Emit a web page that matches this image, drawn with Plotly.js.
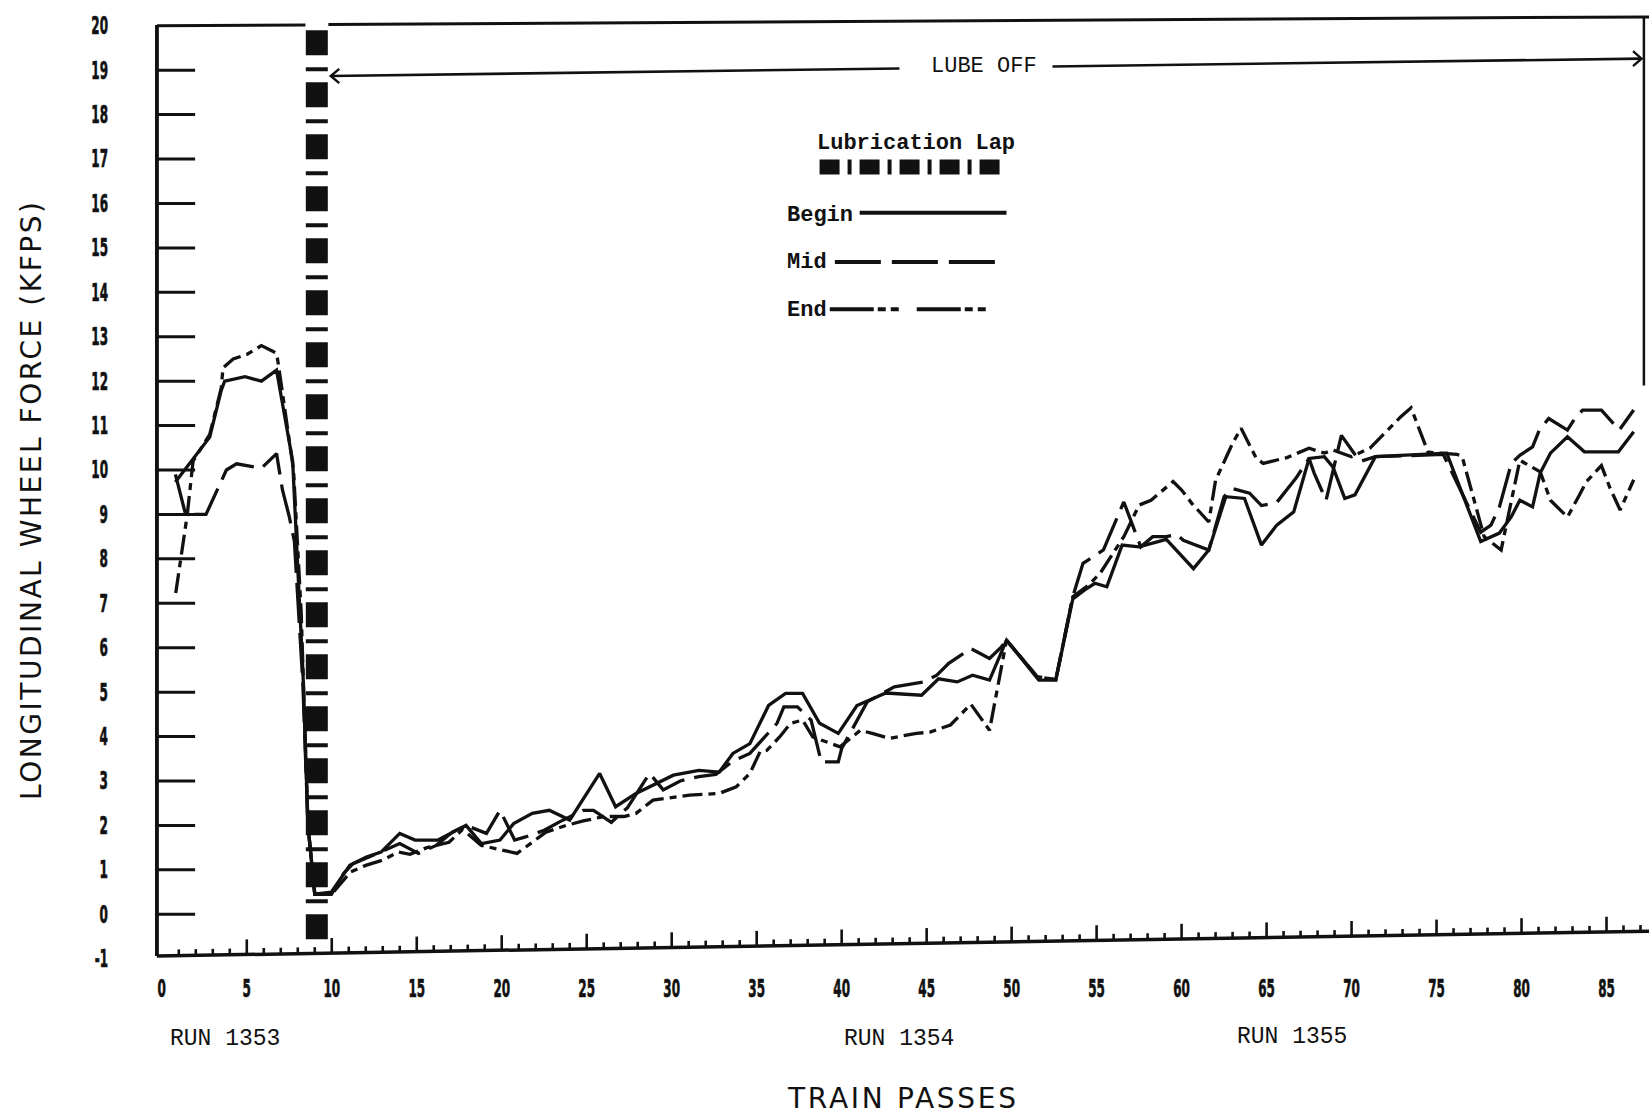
<!DOCTYPE html>
<html>
<head>
<meta charset="utf-8">
<script src="https://cdn.plot.ly/plotly-3.0.1.min.js"></script>
<style>
  html, body { margin: 0; padding: 0; background: #ffffff; }
  #chart { width: 1650px; height: 1115px; }
  #chart .xtick text, #chart .ytick text { stroke: #111111; stroke-width: 0.7px; }
</style>
</head>
<body>
<div id="chart"></div>
<script>
// Longitudinal wheel force (kips) against train passes, measured at the
// beginning, middle and end of the lubrication lap.
const passBegin = [0.8,1.84,2.82,3.5,3.7,4.9,5.86,6.75,7.7,8.1,8.3,8.6,9.0,9.98,11.06,12.04,12.9,14.0,14.9,16.25,17.9,18.8,19.9,20.7,21.8,22.8,24.0,25.76,26.7,27.9,28.9,30.1,31.6,32.8,33.6,34.6,35.7,36.7,37.7,38.7,39.8,40.9,42.6,44.7,45.7,46.8,47.7,48.7,49.7,51.6,52.6,53.6,54.3,54.9,55.6,56.5,57.5,59.1,60.7,61.6,62.6,63.7,64.7,65.6,66.6,67.5,68.4,68.9,69.6,70.2,71.4,75.6,77.6,78.7,79.4,79.9,80.65,81.1,81.7,82.7,83.7,85.7,86.6];
const forceBegin = [9.73,10.25,10.74,11.8,12.0,12.1,12.0,12.25,10.2,7.0,5.5,2.0,0.45,0.5,1.1,1.29,1.4,1.82,1.67,1.67,2.0,1.59,1.67,2.04,2.27,2.34,2.12,3.17,2.42,2.72,2.9,3.13,3.24,3.2,3.62,3.84,4.7,4.97,4.97,4.3,4.07,4.7,4.98,4.93,5.3,5.23,5.38,5.27,6.17,5.27,5.27,7.1,7.3,7.45,7.37,8.31,8.27,8.44,7.78,8.2,9.4,9.36,8.31,8.76,9.06,10.26,10.3,10.07,9.36,9.44,10.3,10.38,8.39,8.58,8.95,9.32,9.17,9.93,10.38,10.75,10.41,10.41,10.86];

const passMid = [0.8,1.4,2.6,3.8,4.4,5.86,6.75,7.1,7.5,7.8,8.3,8.6,9.0,9.98,10.7,11.25,12.7,14.0,15.1,16.15,17.1,17.9,19.1,19.9,20.76,21.4,22.5,23.4,24.8,25.4,26.45,27.4,28.7,29.5,30.5,31.6,32.6,33.6,34.6,36.2,36.6,37.4,38.2,38.8,39.8,40.0,41.5,43.1,44.8,45.6,46.3,47.6,48.7,49.4,49.7,51.5,52.6,53.6,54.2,55.4,56.6,57.6,58.3,59.1,59.7,60.1,61.6,62.5,63.0,64.0,64.7,65.6,66.7,67.5,67.8,68.5,69.4,70.5,71.4,75.4,77.6,78.2,78.7,79.4,79.9,80.65,81.05,81.6,82.7,83.2,83.6,84.7,85.75,86.6];
const forceMid = [9.9,9.0,9.0,10.0,10.14,10.04,10.37,9.55,8.95,8.4,5.2,2.0,0.45,0.45,0.92,1.14,1.37,1.59,1.37,1.55,1.85,2.0,1.82,2.34,1.67,1.74,1.89,2.08,2.34,2.34,2.07,2.4,3.17,2.8,3.0,3.1,3.15,3.45,3.62,4.3,4.67,4.67,4.37,3.43,3.43,3.73,4.78,5.12,5.23,5.38,5.65,5.98,5.76,6.02,6.17,5.35,5.28,7.15,7.9,8.2,9.28,8.27,8.5,8.5,8.55,8.42,8.2,9.4,9.58,9.48,9.2,9.27,9.8,10.26,9.93,9.32,10.78,10.19,10.3,10.35,8.6,8.76,9.17,10.15,10.33,10.52,10.9,11.16,10.9,11.2,11.35,11.35,10.9,11.35];

const passEnd = [0.82,1.5,1.84,2.82,3.5,3.6,4.2,5.0,5.86,6.75,6.85,7.75,8.2,8.6,9.0,9.98,11.1,12.0,13.0,13.9,14.6,15.6,16.9,17.7,18.8,20.9,21.8,22.6,23.8,24.8,26.0,27.2,27.9,28.9,31.05,32.8,33.8,34.6,35.2,35.6,36.35,37.0,37.7,38.3,39.9,41.1,41.8,42.8,44.4,45.2,46.4,47.6,48.7,49.7,51.5,52.6,53.6,54.5,55.2,56.6,57.5,58.2,59.5,60.0,60.6,61.6,62.0,63.0,63.5,64.4,64.8,66.2,67.5,68.4,68.9,70.0,71.1,72.9,73.5,73.9,74.5,76.2,76.5,77.8,78.8,79.9,81.1,81.7,82.7,83.4,83.8,84.7,85.2,85.8,86.6];
const forceEnd = [7.23,9.0,10.2,10.8,11.85,12.3,12.5,12.6,12.8,12.63,12.4,10.0,6.8,2.0,0.45,0.45,0.95,1.1,1.22,1.4,1.35,1.5,1.62,1.91,1.55,1.37,1.62,1.85,2.0,2.1,2.2,2.2,2.27,2.57,2.68,2.72,2.87,3.17,3.66,3.69,3.99,4.3,4.37,3.99,3.77,4.14,4.07,3.96,4.07,4.1,4.26,4.73,4.14,6.17,5.35,5.28,7.15,7.4,7.67,8.5,9.21,9.32,9.74,9.55,9.25,8.83,9.77,10.6,10.94,10.26,10.15,10.28,10.49,10.38,10.45,10.3,10.5,11.2,11.4,11.0,10.4,10.35,10.31,8.5,8.2,10.22,9.96,9.32,8.94,9.43,9.73,10.1,9.6,9.1,9.78];

// Pass at which the lubrication lap was run
const lubeLapPass = 9.12;

// Axis ticks and labels
const yTickVals = [-1,0,1,2,3,4,5,6,7,8,9,10,11,12,13,14,15,16,17,18,19,20];
const yTickText = ['-1','0','1','2','3','4','5','6','7','8','9','10','11','12','13','14','15','16','17','18','19','20'];
const yTickMarks = [0,1,2,3,4,5,6,7,8,9,10,11,12,13,14,15,16,17,18,19];
const xTickVals = [0,5,10,15,20,25,30,35,40,45,50,55,60,65,70,75,80,85];
const xTickText = ['0','5','10','15','20','25','30','35','40','45','50','55','60','65','70','75','80','85'];
const xLastTick = 87;

const runNames = ['RUN 1353', 'RUN 1354', 'RUN 1355'];
const seriesNames = ['Begin', 'Mid', 'End'];

const ink = '#111111';
const tickFont = "'DejaVu Sans', sans-serif";
const titleFont = "'DejaVu Sans', 'Open Sans', sans-serif";
const monoFont = "'Liberation Mono', 'DejaVu Sans Mono', monospace";

const dashMid = '40px,10px';
const dashEnd = '20px,6px,7px,6px';
const dashLube = '25px,12px,4px,11px';

function series(x, y, name, dash) {
  return {
    type: 'scatter', mode: 'lines', x: x, y: y, name: name,
    line: { color: ink, width: 3.3, dash: dash },
    hoverinfo: 'skip', showlegend: false
  };
}

const traces = [
  series(passBegin, forceBegin, seriesNames[0], 'solid'),
  series(passMid, forceMid, seriesNames[1], dashMid),
  series(passEnd, forceEnd, seriesNames[2], dashEnd)
];

// Frame, bottom axis (drawn slightly rising, as on the plotter sheet) and its ticks
const axisLeft = -0.29;
const axisY0 = -0.94, axisY1 = -0.38, axisRight = 87.5;
function axisYAt(x) { return axisY0 + (x - axisLeft) * (axisY1 - axisY0) / (axisRight - axisLeft); }

function seg(x0, y0, x1, y1, width, dash) {
  return { type: 'line', xref: 'x', yref: 'y', x0: x0, y0: y0, x1: x1, y1: y1,
           line: { color: ink, width: width, dash: dash || 'solid' } };
}

const shapes = [];
shapes.push(seg(axisLeft, 20.02, axisLeft, axisY0, 4));
yTickMarks.forEach(function (v) { shapes.push(seg(axisLeft, v, axisLeft + 2.25, v, 3)); });
shapes.push(seg(axisLeft, axisY0, axisRight, axisY1, 3.5));
for (let i = 1; i <= xLastTick; i++) {
  const base = axisYAt(i);
  const h = (i % 5 === 0) ? 0.34 : 0.14;
  shapes.push(seg(i, base, i, base + h, 2.6));
}
shapes.push(seg(axisLeft, 20.0, 8.45, 20.02, 3));
shapes.push(seg(9.8, 20.03, 87.5, 20.2, 3));
shapes.push(seg(87.2, 20.2, 87.2, 11.9, 2.5));

// Lubrication lap marker
shapes.push(seg(lubeLapPass, 19.9, lubeLapPass, -0.8, 22, dashLube));

// "LUBE OFF" span arrow
const lubeOffFrom = 9.94, lubeOffTo = 87.06;
const lubeY0 = 18.87, lubeY1 = 19.26;
function lubeYAt(x) { return lubeY0 + (x - lubeOffFrom) * (lubeY1 - lubeY0) / (lubeOffTo - lubeOffFrom); }
shapes.push(seg(lubeOffFrom, lubeY0, 43.4, lubeYAt(43.4), 2.6));
shapes.push(seg(52.4, lubeYAt(52.4), lubeOffTo, lubeY1, 2.6));
shapes.push({ type: 'path', xref: 'x', yref: 'y', line: { color: ink, width: 2.4 },
  path: 'M ' + (lubeOffFrom + 0.5) + ',' + (lubeY0 + 0.16) + ' L ' + lubeOffFrom + ',' + lubeY0 +
        ' L ' + (lubeOffFrom + 0.5) + ',' + (lubeY0 - 0.16) });
shapes.push({ type: 'path', xref: 'x', yref: 'y', line: { color: ink, width: 2.4 },
  path: 'M ' + (lubeOffTo - 0.5) + ',' + (lubeY1 + 0.17) + ' L ' + lubeOffTo + ',' + lubeY1 +
        ' L ' + (lubeOffTo - 0.5) + ',' + (lubeY1 - 0.17) });

// Key
shapes.push(seg(38.7, 16.82, 49.5, 16.82, 15, '20px,8px,4px,8px'));
shapes.push(seg(41.06, 15.79, 49.7, 15.79, 4));
shapes.push(seg(39.6, 14.68, 49.6, 14.68, 4, '46px,11px'));
shapes.push(seg(39.3, 13.62, 49.5, 13.62, 4, '44px,4px,8px,5px,8px,18px'));

function label(text, x, y, font, xanchor) {
  return { text: text, x: x, y: y, xref: 'x', yref: 'y', showarrow: false,
           xanchor: xanchor || 'center', yanchor: 'middle', font: font };
}
function runLabel(text, x, yPaper) {
  return { text: text, x: x, y: yPaper, xref: 'x', yref: 'paper', showarrow: false,
           xanchor: 'center', yanchor: 'middle', font: { family: monoFont, size: 23, color: ink } };
}
const keyFont = { family: monoFont, size: 22, color: ink, weight: 700 };

const annotations = [
  label('LUBE OFF', 48.35, 19.08, { family: monoFont, size: 22, color: ink }),
  label('Lubrication Lap', 44.4, 17.36, keyFont),
  label(seriesNames[0], 36.65, 15.74, keyFont, 'left'),
  label(seriesNames[1], 36.65, 14.66, keyFont, 'left'),
  label(seriesNames[2], 36.65, 13.6, keyFont, 'left'),
  runLabel(runNames[0], 3.7, -0.0698),
  runLabel(runNames[1], 43.35, -0.0698),
  runLabel(runNames[2], 66.47, -0.0677)
];

const layout = {
  width: 1650, height: 1115,
  margin: { l: 155.2, r: 0.5, t: 8.2, b: 143.3 },
  paper_bgcolor: '#ffffff', plot_bgcolor: '#ffffff',
  showlegend: false,
  xaxis: {
    range: [-0.4, 87.5], showgrid: false, zeroline: false, showline: false,
    ticks: '', tickmode: 'array', tickvals: xTickVals, ticktext: xTickText,
    tickfont: { family: tickFont, size: 24, color: ink, weight: 700 },
    ticklabelstandoff: 0,
    title: { text: 'TRAIN PASSES', standoff: 86,
             font: { family: titleFont, size: 28, color: ink } }
  },
  yaxis: {
    range: [-1.3, 20.4], showgrid: false, zeroline: false, showline: false,
    ticks: '', tickmode: 'array', tickvals: yTickVals, ticktext: yTickText,
    tickfont: { family: tickFont, size: 24, color: ink, weight: 700 },
    ticklabelstandoff: 46,
    title: { text: 'LONGITUDINAL WHEEL FORCE (KFPS)', standoff: 24,
             font: { family: titleFont, size: 28, color: ink } }
  },
  shapes: shapes,
  annotations: annotations
};

// Plotter-style narrow digits for tick labels and wide-tracked axis titles
function restyleText(gd) {
  gd.querySelectorAll('.xtick text, .ytick text').forEach(function (t) {
    const w = t.getComputedTextLength();
    t.setAttribute('lengthAdjust', 'spacingAndGlyphs');
    t.setAttribute('textLength', (w * 0.5).toFixed(1));
  });
  const yt = gd.querySelector('.ytitle');
  if (yt) {
    yt.setAttribute('lengthAdjust', 'spacing');
    yt.setAttribute('textLength', '598');
    yt.setAttribute('transform', 'translate(0,11) ' + (yt.getAttribute('transform') || ''));
  }
  const xt = gd.querySelector('.xtitle');
  if (xt) { xt.setAttribute('lengthAdjust', 'spacing'); xt.setAttribute('textLength', '228'); }
}

Plotly.newPlot('chart', traces, layout, { staticPlot: true, displayModeBar: false })
  .then(restyleText);
</script>
</body>
</html>
